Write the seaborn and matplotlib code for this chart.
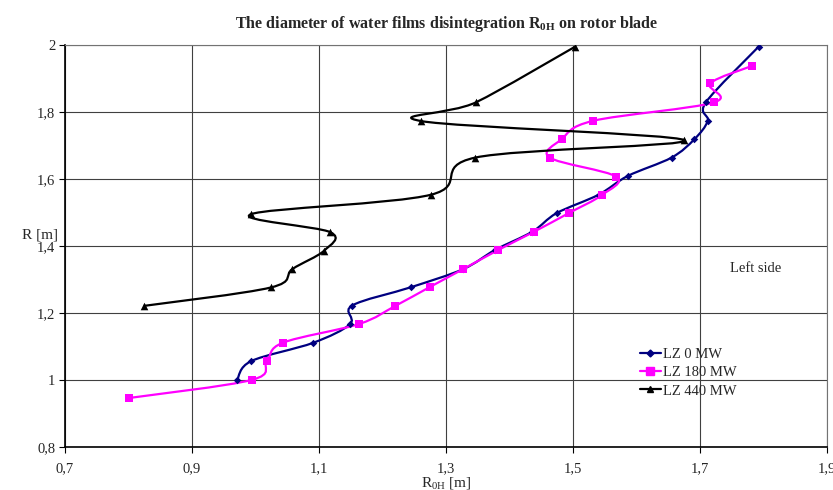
import numpy as np
import pandas as pd
import matplotlib
matplotlib.use('Agg')
import matplotlib.pyplot as plt
from matplotlib.path import Path
from matplotlib.patches import PathPatch
from matplotlib.lines import Line2D
import seaborn as sns

sns.set_style("white")
plt.rcParams['font.family'] = ['Liberation Serif', 'DejaVu Serif']
plt.rcParams['mathtext.fontset'] = 'custom'
plt.rcParams['mathtext.rm'] = 'Liberation Serif'
plt.rcParams['mathtext.bf'] = 'Liberation Serif:bold'

lz0_x = [0.971, 0.993, 1.091, 1.149, 1.152, 1.245, 1.327, 1.377, 1.436, 1.474,
         1.540, 1.586, 1.655, 1.691, 1.712, 1.709, 1.792]
lz0_y = [1.000, 1.056, 1.111, 1.167, 1.222, 1.277, 1.331, 1.388, 1.443, 1.498,
         1.553, 1.609, 1.664, 1.719, 1.774, 1.829, 1.995]

lz180_x = [0.801, 0.994, 1.018, 1.043, 1.163, 1.220, 1.274, 1.327, 1.382, 1.439,
           1.493, 1.546, 1.568, 1.463, 1.482, 1.532, 1.722, 1.716, 1.782]
lz180_y = [0.946, 1.000, 1.056, 1.111, 1.167, 1.221, 1.277, 1.331, 1.388, 1.443,
           1.498, 1.553, 1.607, 1.664, 1.719, 1.774, 1.829, 1.886, 1.938]

lz440_x = [0.824, 1.024, 1.058, 1.108, 1.118, 0.993, 1.276, 1.346, 1.675, 1.261,
           1.347, 1.503]
lz440_y = [1.221, 1.276, 1.331, 1.386, 1.441, 1.495, 1.553, 1.664, 1.716, 1.773,
           1.829, 1.995]

labels = ['LZ 0 MW', 'LZ 180 MW', 'LZ 440 MW']
x_ticks = [0.7, 0.9, 1.1, 1.3, 1.5, 1.7, 1.9]
x_ticklabels = ['0,7', '0,9', '1,1', '1,3', '1,5', '1,7', '1,9']
y_ticks = [0.8, 1.0, 1.2, 1.4, 1.6, 1.8, 2.0]
y_ticklabels = ['0,8', '1', '1,2', '1,4', '1,6', '1,8', '2']

colors = ['#000080', '#FF00FF', '#000000']
markers = ['D', 's', '^']
msizes = [3.5, 5.5, 5]

df = pd.concat([
    pd.DataFrame({'x': lz0_x, 'y': lz0_y, 'seria': labels[0]}),
    pd.DataFrame({'x': lz180_x, 'y': lz180_y, 'seria': labels[1]}),
    pd.DataFrame({'x': lz440_x, 'y': lz440_y, 'seria': labels[2]}),
], ignore_index=True)


def smooth_path(xs, ys):
    # wygładzona linia jak w Excelu (Catmull-Rom -> Bezier)
    p = np.column_stack([xs, ys])
    verts = [p[0]]
    codes = [Path.MOVETO]
    n = len(p)
    for i in range(n - 1):
        p0 = p[i - 1] if i > 0 else p[i]
        p3 = p[i + 2] if i + 2 < n else p[i + 1]
        c1 = p[i] + (p[i + 1] - p0) / 6
        c2 = p[i + 1] - (p3 - p[i]) / 6
        verts += [c1, c2, p[i + 1]]
        codes += [Path.CURVE4] * 3
    return Path(verts, codes)


fig = plt.figure(figsize=(8.33, 4.9), dpi=100)
ax = fig.add_axes([0.078, 0.088, 0.915, 0.82])

for lab, col, mk, ms in zip(labels, colors, markers, msizes):
    d = df[df['seria'] == lab]
    ax.add_patch(PathPatch(smooth_path(d['x'].values, d['y'].values),
                           facecolor='none', edgecolor=col, lw=1.6, zorder=3))
    sns.scatterplot(data=d, x='x', y='y', color=col, marker=mk, s=ms ** 2 * 1.2,
                    edgecolor=col, linewidth=0, ax=ax, zorder=4, legend=False)

ax.set_xlim(0.7, 1.9)
ax.set_ylim(0.8, 2.0)
ax.set_xticks(x_ticks)
ax.set_xticklabels(x_ticklabels)
ax.set_yticks(y_ticks)
ax.set_yticklabels(y_ticklabels)
ax.grid(True, color='0.25', lw=0.8)
ax.set_axisbelow(True)
ax.tick_params(axis='both', direction='out', length=4, width=0.8, color='black',
               labelsize=10.5, bottom=True, left=True)
ax.tick_params(axis='x', pad=7)
ax.tick_params(axis='y', pad=3)
for s in ['left', 'bottom']:
    ax.spines[s].set_color('black')
    ax.spines[s].set_linewidth(1.2)
for s in ['top', 'right']:
    ax.spines[s].set_color('0.45')
    ax.spines[s].set_linewidth(0.8)

ax.set_xlabel(r"$\mathrm{R_{0H}}$ [m]", fontsize=11, labelpad=0)
ax.set_ylabel("R [m]", fontsize=11, rotation=0)
ax.yaxis.set_label_coords(-0.033, 0.51)
ax.set_title(r"The diameter of water films disintegration $\mathbf{R_{0H}}$ on rotor blade",
             fontsize=11.5, fontweight='bold', pad=12)

ax.text(1.787, 1.334, "Left side", fontsize=10.5, va='center', ha='center')

handles = [Line2D([], [], color=c, marker=m, markersize=ms, lw=1.6)
           for c, m, ms in zip(colors, markers, msizes)]
ax.legend(handles, labels, loc='upper left', bbox_to_anchor=(0.745, 0.265),
          frameon=False, fontsize=10.5, handlelength=1.4, handletextpad=0.2,
          labelspacing=0.35, borderpad=0)

fig.savefig('out.png', dpi=100)
